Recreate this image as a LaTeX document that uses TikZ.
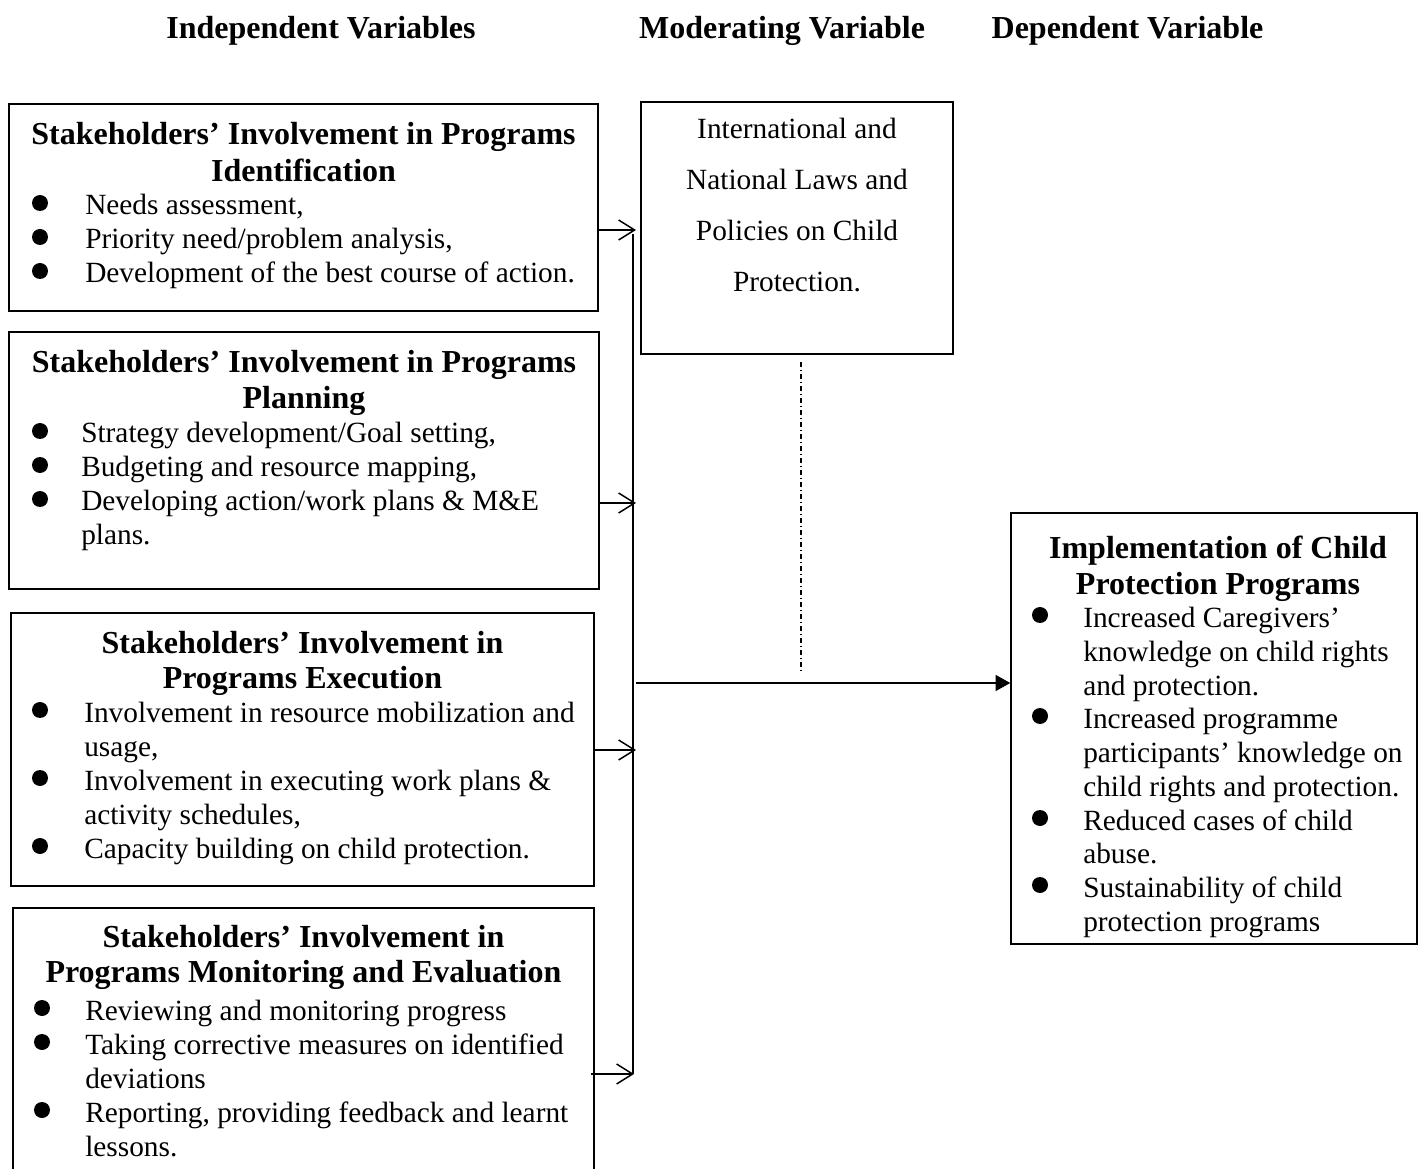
\documentclass[tikz,border=0pt]{standalone}
\usepackage{fontspec}
\setmainfont{Liberation Serif}
\usetikzlibrary{arrows.meta,positioning,fit}
\tikzset{
  box/.style={draw, line width=1.1pt, inner sep=0pt, rectangle},
  txt/.style={inner sep=0pt, anchor=base west, font=\fontsize{22}{25}\selectfont},
  ctxt/.style={inner sep=0pt, anchor=base, font=\fontsize{22}{25}\selectfont},
  ttl/.style={inner sep=0pt, anchor=base, font=\fontsize{24}{28}\selectfont\bfseries},
  oarrow/.style={line width=1.1pt, -{Straight Barb[length=12pt,width=15pt,line width=1.1pt]}},
  farrow/.style={line width=1.1pt, -{Triangle[length=11pt,width=12pt]}},
  conn/.style={line width=1.1pt},
  dashdot/.style={line width=1pt, dash pattern=on 3.75pt off 2.25pt on 0.75pt off 2.25pt}
}
\newcommand\itm[5]{\fill (#2,#4-12) circle (6pt); \node[txt] (#1) at (#3,#4) {#5};}
\begin{document}
\begin{tikzpicture}[x=0.75pt,y=-0.75pt]
\useasboundingbox (0,0) rectangle (1418,1169);
\clip (0,0) rectangle (1418,1169);
\fill[white] (0,0) rectangle (1418,1169);

% headers
\node[ttl] (h1) at (321,39) {Independent Variables};
\node[ttl] (h2) at (782,39) {Moderating Variable};
\node[ttl] (h3) at (1127.5,39) {Dependent Variable};

% boxes
\node[box, fit={(9,104) (598,311)}] (b1) {};
\node[box, fit={(9,332) (599,589)}] (b2) {};
\node[box, fit={(11,613) (594,886)}] (b3) {};
\node[box, fit={(13,908) (594,1190)}] (b4) {};
\node[box, fit={(641,102) (953,354)}] (mod) {};
\node[box, fit={(1011,513) (1417,944)}] (dep) {};

% box 1
\node[ttl] (t1a) at (303.5,145) {Stakeholders’ Involvement in Programs};
\node[ttl] (t1b) at (303.5,182) {Identification};
\itm{i1a}{40}{85}{215}{Needs assessment,}
\itm{i1b}{40}{85}{249}{Priority need/problem analysis,}
\itm{i1c}{40}{85}{283}{Development of the best course of action.}

% box 2
\node[ttl] (t2a) at (304,373) {Stakeholders’ Involvement in Programs};
\node[ttl] (t2b) at (304,409) {Planning};
\itm{i2a}{40}{81}{443}{Strategy development/Goal setting,}
\itm{i2b}{40}{81}{477}{Budgeting and resource mapping,}
\itm{i2c}{40}{81}{511}{Developing action/work plans \& M\&E}
\node[txt] (i2d) at (81,545) {plans.};

% box 3
\node[ttl] (t3a) at (302.5,653) {Stakeholders’ Involvement in};
\node[ttl] (t3b) at (302.5,688) {Programs Execution};
\itm{i3a}{40}{84}{722}{Involvement in resource mobilization and}
\node[txt] (i3b) at (84,756) {usage,};
\itm{i3c}{40}{84}{790}{Involvement in executing work plans \&}
\node[txt] (i3d) at (84,824) {activity schedules,};
\itm{i3e}{40}{84}{858}{Capacity building on child protection.}

% box 4
\node[ttl] (t4a) at (303.5,947) {Stakeholders’ Involvement in};
\node[ttl] (t4b) at (303.5,982) {Programs Monitoring and Evaluation};
\itm{i4a}{42}{85}{1020}{Reviewing and monitoring progress}
\itm{i4b}{42}{85}{1054}{Taking corrective measures on identified}
\node[txt] (i4c) at (85,1088) {deviations};
\itm{i4d}{42}{85}{1122}{Reporting, providing feedback and learnt}
\node[txt] (i4e) at (85,1156) {lessons.};

% moderating
\node[ctxt] (m1) at (797,139) {International and};
\node[ctxt] (m2) at (797,190) {National Laws and};
\node[ctxt] (m3) at (797,241) {Policies on Child};
\node[ctxt] (m4) at (797,292) {Protection.};

% dependent
\node[ttl] (t5a) at (1218,558) {Implementation of Child};
\node[ttl] (t5b) at (1218,594) {Protection Programs};
\itm{i5a}{1040}{1083}{627}{Increased Caregivers’}
\node[txt] (i5b) at (1083,661) {knowledge on child rights};
\node[txt] (i5c) at (1083,695) {and protection.};
\itm{i5d}{1040}{1083}{728}{Increased programme}
\node[txt] (i5e) at (1083,762) {participants’ knowledge on};
\node[txt] (i5f) at (1083,796) {child rights and protection.};
\itm{i5g}{1040}{1083}{830}{Reduced cases of child}
\node[txt] (i5h) at (1083,863) {abuse.};
\itm{i5i}{1040}{1083}{897}{Sustainability of child}
\node[txt] (i5j) at (1083,931) {protection programs};

% connectors
\coordinate (v1) at (636,230);
\coordinate (v2) at (636,503);
\coordinate (v3) at (636,750);
\coordinate (v4) at (634,1074);
\coordinate (vt) at (633,234);
\coordinate (h0) at (636,683);
\coordinate (d1) at (801,362);
\coordinate (d2) at (801,672);

\draw[oarrow] (b1.east |- v1) -- (v1);
\draw[oarrow] (b2.east |- v2) -- (v2);
\draw[oarrow] (b3.east |- v3) -- (v3);
\draw[oarrow] ([xshift=-3pt]b4.east |- v4) -- (v4);
\draw[conn] (vt) -- (vt |- v4);
\draw[farrow] (h0) -- (dep.west |- h0);
\draw[dashdot] (d1) -- (d2);
\end{tikzpicture}
\end{document}
